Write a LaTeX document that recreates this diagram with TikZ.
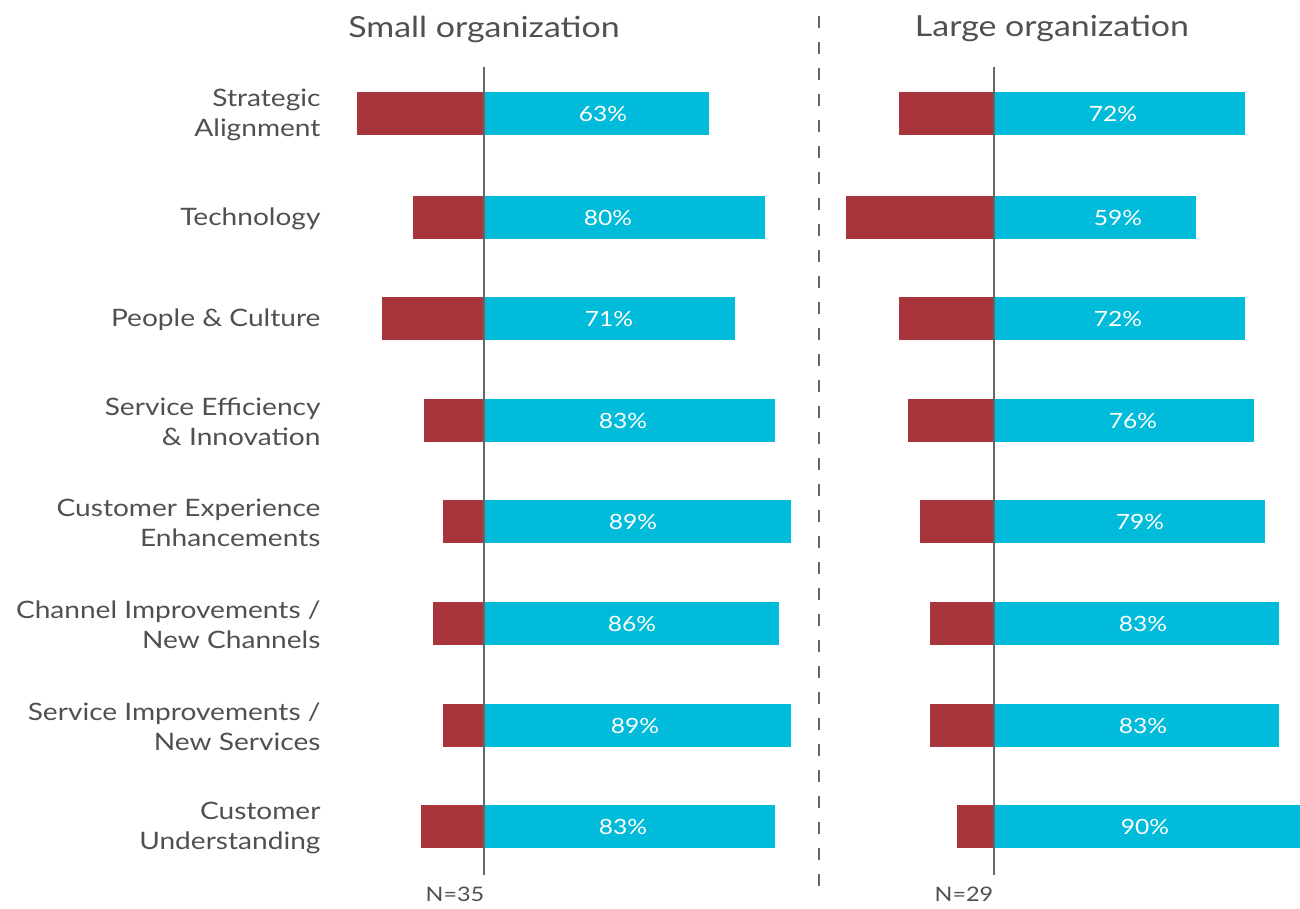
\documentclass[tikz,border=0pt]{standalone}
\usepackage{fontspec}
\setmainfont{Lato}[FakeStretch=1.17]
\definecolor{negred}{HTML}{A8343C}
\definecolor{poscyan}{HTML}{00BBD9}
\definecolor{txtgray}{HTML}{505050}
\definecolor{axgray}{HTML}{666666}
\begin{document}
\begin{tikzpicture}[x=1pt,y=-1pt,
  negbar/.style={fill=negred},
  posbar/.style={fill=poscyan},
  pct/.style={text=white,font=\fontsize{21}{24}\selectfont},
  cat/.style={text=txtgray,align=right,anchor=east,font=\fontsize{24}{30}\selectfont},
  ttl/.style={text=txtgray,font=\fontsize{29}{32}\selectfont},
  nlab/.style={text=txtgray,font=\fontsize{20}{22}\selectfont},
  axis/.style={draw=axgray,line width=2pt},
  divider/.style={draw=axgray,line width=2.2pt,dash pattern=on 12pt off 14pt}]
\useasboundingbox (0,0) rectangle (1300,908);
% categories
\foreach \y/\t [count=\i] in {113/{Strategic\\Alignment},217/{Technology},318/{People \& Culture},420/{Service Efficiency\\\& Innovation},521/{Customer Experience\\Enhancements},623/{Channel Improvements /\\New Channels},725/{Service Improvements /\\New Services},826/{Customer\\Understanding}}
  \node[cat] (cat\i) at (324,\y+2) {\t};
% left bars
\foreach \y/\r/\c/\lx/\p [count=\i] in {113/357/709/603/63,217/413/765/608/80,318/382/735/609/71,420/424/775/623/83,521/443/791/633/89,623/433/779/632/86,725/443/791/635/89,826/421/775/623/83}{
  \fill[negbar] (\r,\y-21.5) rectangle (484,\y+21.5);
  \fill[posbar] (484,\y-21.5) rectangle (\c,\y+21.5);
  \node[pct] (sp\i) at (\lx,\y+1) {\p\%};
}
% right bars
\foreach \y/\r/\c/\lx/\p [count=\i] in {113/899/1245/1113/72,217/846/1196/1118/59,318/899/1245/1118/72,420/908/1254/1133/76,521/920/1265/1140/79,623/930/1279/1143/83,725/930/1279/1143/83,826/957/1300/1145/90}{
  \fill[negbar] (\r,\y-21.5) rectangle (994,\y+21.5);
  \fill[posbar] (994,\y-21.5) rectangle (\c,\y+21.5);
  \node[pct] (lp\i) at (\lx,\y+1) {\p\%};
}
% axes
\coordinate (sa) at (484,67); \coordinate (sb) at (484,875);
\coordinate (la) at (994,67); \coordinate (lb) at (994,875);
\draw[axis] (sa) -- (sb);
\draw[axis] (la) -- (lb);
\coordinate (da) at (819,16); \coordinate (db) at (819,892);
\draw[divider] (da) -- (db);
% titles
\node[ttl] (tsmall) at (484,29) {Small organization};
\node[ttl] (tlarge) at (1052,29) {Large organization};
\node[nlab] (n1) at (455,894) {N=35};
\node[nlab] (n2) at (964,894) {N=29};
\end{tikzpicture}
\end{document}
